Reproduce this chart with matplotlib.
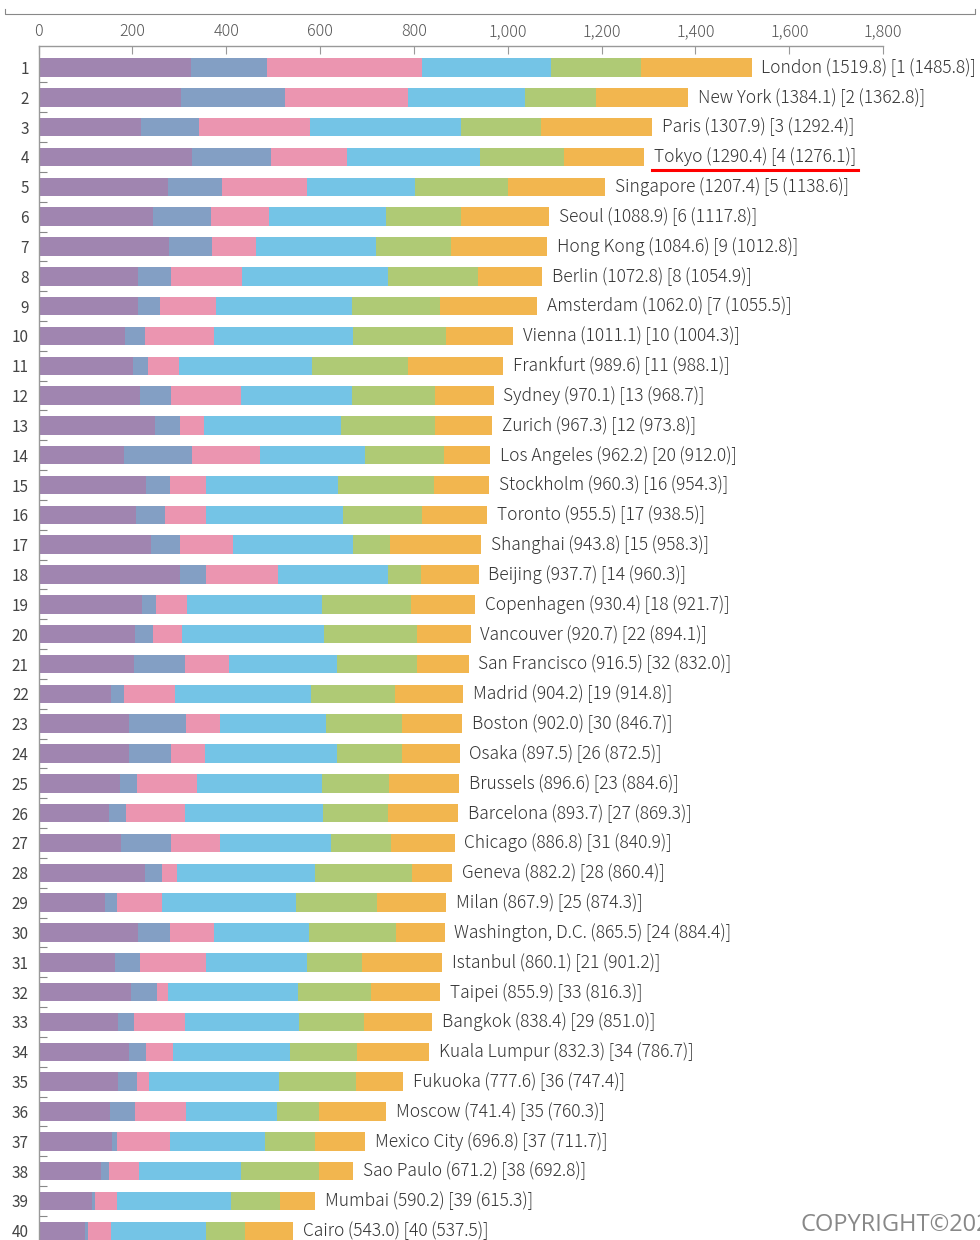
import matplotlib
matplotlib.use("Agg")
from matplotlib import pyplot as plt
from matplotlib.lines import Line2D
from matplotlib.ticker import FuncFormatter, FixedLocator

plt.rcParams['font.family'] = ['Noto Sans CJK JP', 'DejaVu Sans']

# ---------------------------- data --------------------------------------
cities = ["London", "New York", "Paris", "Tokyo", "Singapore", "Seoul", "Hong Kong",
          "Berlin", "Amsterdam", "Vienna", "Frankfurt", "Sydney", "Zurich",
          "Los Angeles", "Stockholm", "Toronto", "Shanghai", "Beijing", "Copenhagen",
          "Vancouver", "San Francisco", "Madrid", "Boston", "Osaka", "Brussels",
          "Barcelona", "Chicago", "Geneva", "Milan", "Washington, D.C.", "Istanbul",
          "Taipei", "Bangkok", "Kuala Lumpur", "Fukuoka", "Moscow", "Mexico City",
          "Sao Paulo", "Mumbai", "Cairo"]

totals = [1519.8, 1384.1, 1307.9, 1290.4, 1207.4, 1088.9, 1084.6, 1072.8, 1062.0, 1011.1,
          989.6, 970.1, 967.3, 962.2, 960.3, 955.5, 943.8, 937.7, 930.4, 920.7,
          916.5, 904.2, 902.0, 897.5, 896.6, 893.7, 886.8, 882.2, 867.9, 865.5,
          860.1, 855.9, 838.4, 832.3, 777.6, 741.4, 696.8, 671.2, 590.2, 543.0]

prev_rank = [1, 2, 3, 4, 5, 6, 9, 8, 7, 10, 11, 13, 12, 20, 16, 17, 15, 14, 18, 22,
             32, 19, 30, 26, 23, 27, 31, 28, 25, 24, 21, 33, 29, 34, 36, 35, 37, 38, 39, 40]

prev_score = [1485.8, 1362.8, 1292.4, 1276.1, 1138.6, 1117.8, 1012.8, 1054.9, 1055.5, 1004.3,
              988.1, 968.7, 973.8, 912.0, 954.3, 938.5, 958.3, 960.3, 921.7, 894.1,
              832.0, 914.8, 846.7, 872.5, 884.6, 869.3, 840.9, 860.4, 874.3, 884.4,
              901.2, 816.3, 851.0, 786.7, 747.4, 760.3, 711.7, 692.8, 615.3, 537.5]

economy = [325.0, 302.9, 218.4, 327.1, 275.2, 244.7, 278.1, 211.3, 211.3, 184.3,
           202.1, 215.6, 248.3, 182.2, 228.4, 207.8, 239.0, 300.8, 221.3, 204.9,
           203.5, 154.5, 192.1, 193.6, 173.7, 149.5, 176.5, 226.9, 142.4, 212.7,
           163.7, 196.4, 170.1, 193.6, 170.1, 152.4, 157.3, 133.2, 114.0, 99.8]

research = [161.2, 221.6, 124.3, 168.3, 115.8, 122.9, 91.6, 71.8, 46.9, 41.9,
            31.2, 67.5, 52.5, 144.9, 51.8, 61.8, 63.2, 55.4, 29.1, 39.8,
            109.4, 27.0, 122.2, 88.7, 36.9, 36.2, 105.8, 37.0, 24.2, 67.5,
            52.6, 55.4, 33.4, 35.5, 39.8, 52.5, 10.0, 17.0, 5.7, 5.7]

culture = [331.7, 262.8, 235.1, 162.7, 181.1, 123.6, 93.1, 149.8, 119.3, 147.1,
           66.1, 147.7, 51.9, 144.2, 76.0, 87.3, 113.0, 153.4, 66.8, 61.8,
           93.0, 110.1, 71.7, 72.5, 127.1, 125.8, 103.7, 31.2, 97.3, 93.8,
           139.9, 24.2, 109.4, 58.2, 26.3, 109.4, 112.9, 64.0, 47.6, 48.3]

livability = [273.4, 250.1, 323.2, 282.7, 230.9, 249.3, 255.7, 311.1, 291.2, 297.6,
              282.7, 237.9, 291.9, 224.4, 282.7, 292.7, 255.7, 234.4, 286.2, 301.9,
              230.2, 289.8, 226.6, 281.3, 266.4, 295.4, 238.0, 293.4, 284.1, 202.4,
              216.6, 277.0, 242.9, 247.9, 277.0, 194.6, 203.1, 218.0, 242.9, 202.4]

environment = [192.5, 151.3, 169.7, 179.0, 196.7, 159.1, 159.8, 191.8, 186.1, 197.4,
               205.2, 176.9, 201.0, 167.6, 203.1, 167.3, 77.4, 71.5, 191.4, 197.4,
               171.1, 178.2, 161.3, 139.2, 142.8, 138.5, 126.4, 207.7, 172.6, 185.4,
               115.8, 156.2, 137.8, 144.2, 162.6, 89.5, 106.6, 166.2, 103.7, 83.8]

accessibility = [236.0, 195.4, 237.2, 170.6, 207.7, 189.3, 206.3, 137.0, 207.2, 142.8,
                 202.3, 124.5, 121.7, 98.9, 118.3, 138.6, 195.5, 122.2, 135.6, 114.9,
                 109.3, 144.6, 128.1, 122.2, 149.7, 148.3, 136.4, 86.0, 147.3, 103.7,
                 171.5, 146.7, 144.8, 152.9, 101.8, 143.0, 106.9, 72.8, 76.3, 103.0]

segments = [economy, research, culture, livability, environment, accessibility]
seg_colors = ["#A085B0", "#839FC4", "#EB95B0", "#74C4E6", "#AFCA75", "#F2B64F"]

highlight = "Tokyo"

# ---------------------------- plot --------------------------------------
fig = plt.figure(figsize=(9.8, 12.4), dpi=100)
ax = fig.add_axes([38.5 / 980, 0, 844.7 / 980, 1 - 46 / 1240])

rows = list(range(1, len(cities) + 1))
left = [0.0] * len(cities)
for vals, col in zip(segments, seg_colors):
    ax.barh(rows, vals, left=left, height=0.62, color=col, linewidth=0)
    left = [l + v for l, v in zip(left, vals)]

# thin space falls back to DejaVu Sans (CJK font lacks it)
ts = "\u2009"
labels = []
for i, city in enumerate(cities):
    txt = (f"{city}{ts}({totals[i]:.1f}){ts}[{prev_rank[i]}{ts}"
           f"({prev_score[i]:.1f})]")
    t = ax.annotate(txt, xy=(totals[i], rows[i]), xytext=(7, 0),
                    textcoords="offset points", va="center", ha="left",
                    fontsize=12.5, fontweight="light", color="#333333",
                    annotation_clip=False)
    labels.append(t)

ax.set_xlim(0, 1800)
ax.set_ylim(40.31, 0.28)

for s in ["right", "bottom"]:
    ax.spines[s].set_visible(False)
for s in ["left", "top"]:
    ax.spines[s].set_color("#999999")
    ax.spines[s].set_linewidth(1.0)

ax.xaxis.tick_top()
ax.set_xticks(range(0, 1801, 200))
ax.xaxis.set_major_formatter(FuncFormatter(lambda v, p: f"{int(v):,}"))
ax.tick_params(axis="x", direction="in", length=6, width=0.8, color="#999999",
               labelcolor="#555555", labelsize=11.5, pad=4)
for lb in ax.get_xticklabels():
    lb.set_fontweight("light")

ax.set_yticks(rows)
ax.set_yticklabels([str(r) for r in rows])
ax.yaxis.set_minor_locator(FixedLocator([r + 0.5 for r in rows[:-1]]))
ax.tick_params(axis="y", which="major", length=0, labelsize=11,
               labelcolor="#444444", pad=7)
ax.tick_params(axis="y", which="minor", direction="in", length=6, width=0.8,
               color="#888888")

# thin bracket line at the very top
fig.add_artist(Line2D([5 / 980, 5 / 980, 975 / 980, 975 / 980],
                      [1 - 9 / 1240, 1 - 14 / 1240, 1 - 14 / 1240, 1 - 9 / 1240],
                      color="#888888", linewidth=0.8))

# underline the highlighted city
fig.canvas.draw()
k = cities.index(highlight)
bb = labels[k].get_window_extent()
fig.add_artist(Line2D([(bb.x0 - 2) / 980, (bb.x1 + 2) / 980],
                      [(bb.y0 - 4) / 1240, (bb.y0 - 4) / 1240],
                      color="red", linewidth=2.2))

fig.text(800 / 980, 15 / 1240, "COPYRIGHT©2023", fontsize=17, color="#888888",
         family=["Open Sans", "DejaVu Sans"], va="center", ha="left")

fig.savefig("out.png", dpi=100)
